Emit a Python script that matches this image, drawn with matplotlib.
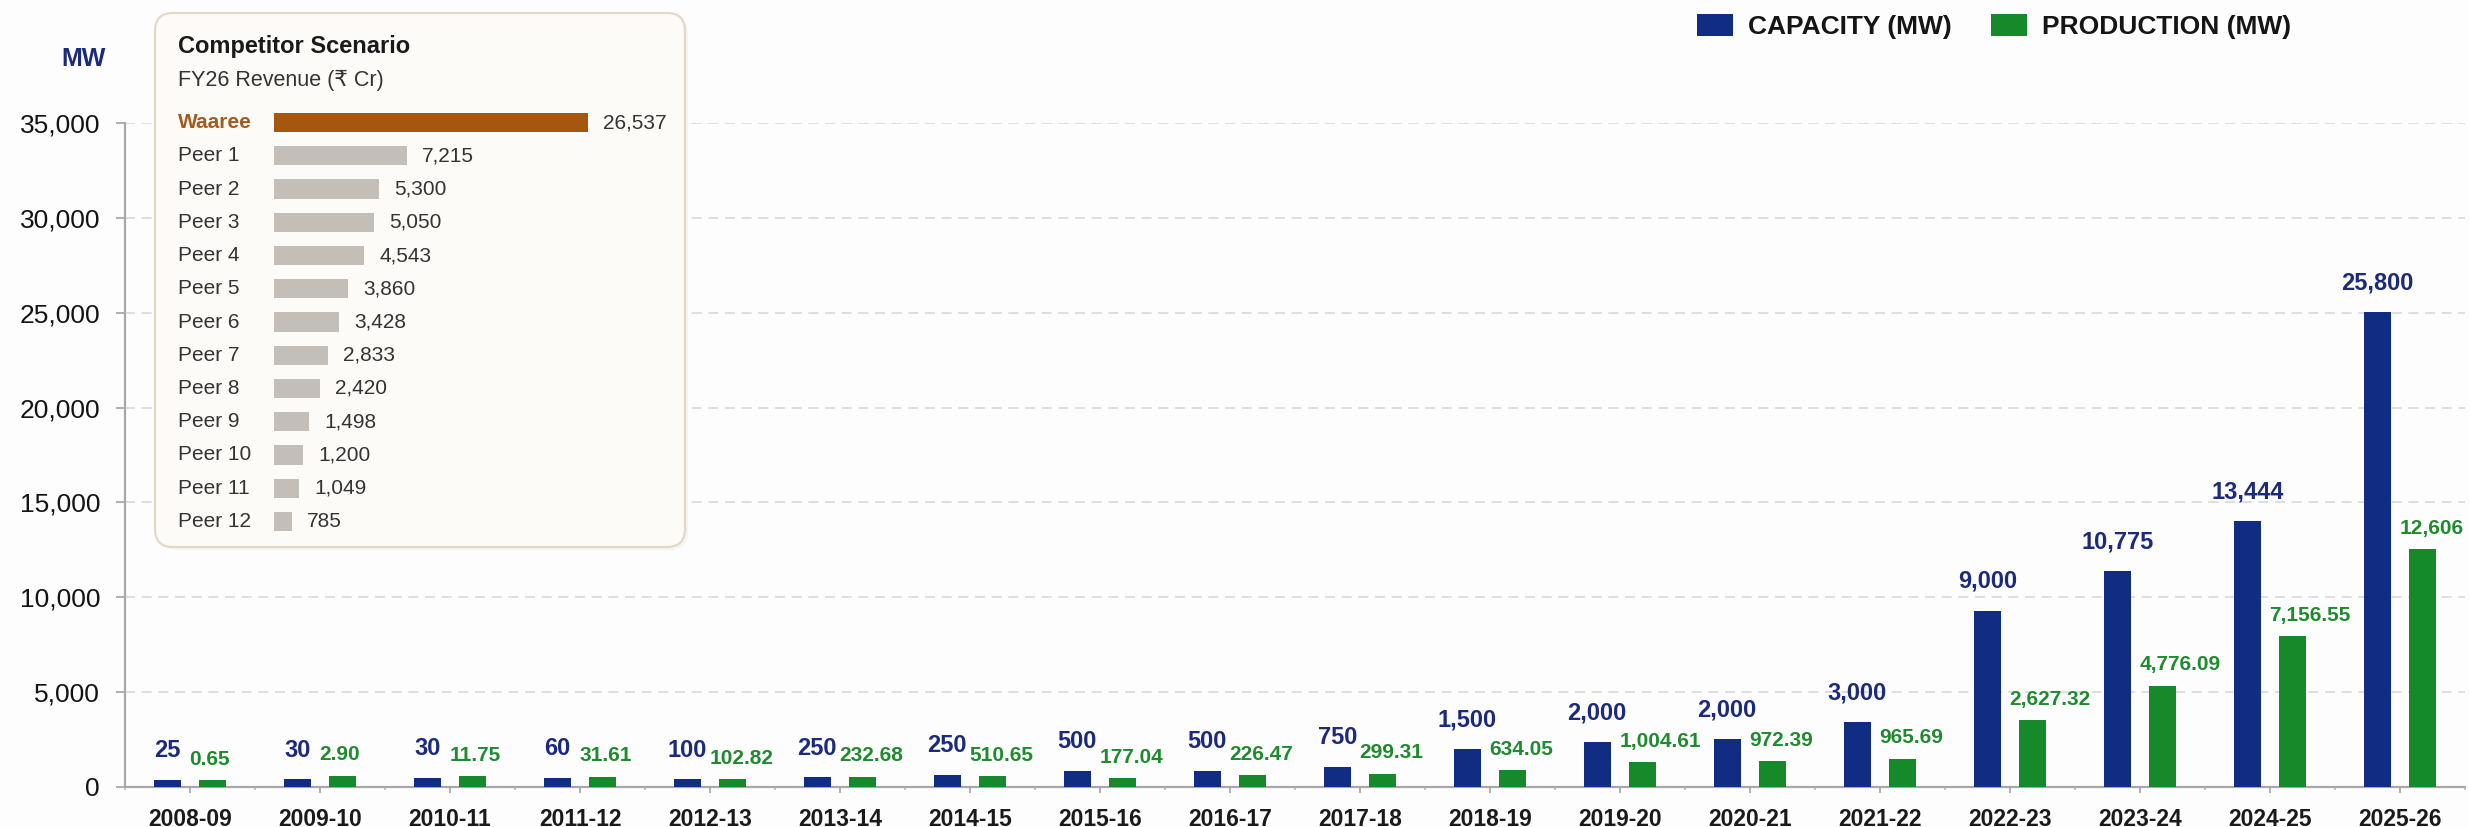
import numpy as np
import matplotlib
matplotlib.use("Agg")
import matplotlib.pyplot as plt
from matplotlib.patches import FancyBboxPatch, Patch
from matplotlib.ticker import FixedLocator, FuncFormatter

plt.rcParams['font.family'] = ['Liberation Sans', 'DejaVu Sans']

# ---------------- data ----------------
years = ['2008-09', '2009-10', '2010-11', '2011-12', '2012-13', '2013-14', '2014-15',
         '2015-16', '2016-17', '2017-18', '2018-19', '2019-20', '2020-21', '2021-22',
         '2022-23', '2023-24', '2024-25', '2025-26']
capacity = [25, 30, 30, 60, 100, 250, 250, 500, 500, 750, 1500, 2000, 2000, 3000,
            9000, 10775, 13444, 25800]
production = [0.65, 2.90, 11.75, 31.61, 102.82, 232.68, 510.65, 177.04, 226.47, 299.31,
              634.05, 1004.61, 972.39, 965.69, 2627.32, 4776.09, 7156.55, 12606]
# bar heights as drawn in the (not-to-scale) reference
capacity_drawn = [370, 400, 470, 470, 400, 510, 630, 860, 860, 1070, 1980, 2360, 2540,
                  3420, 9300, 11400, 14000, 25050]
production_drawn = [370, 600, 580, 540, 400, 540, 580, 470, 630, 700, 880, 1300, 1370,
                    1490, 3510, 5350, 7950, 12540]

companies = ['Waaree', 'Peer 1', 'Peer 2', 'Peer 3', 'Peer 4', 'Peer 5', 'Peer 6',
             'Peer 7', 'Peer 8', 'Peer 9', 'Peer 10', 'Peer 11', 'Peer 12']
revenue = [26537, 7215, 5300, 5050, 4543, 3860, 3428, 2833, 2420, 1498, 1200, 1049, 785]
# bar lengths as drawn in the (not-to-scale) reference inset
revenue_drawn = [314, 133, 105, 100, 90, 74, 65, 54, 46, 35, 29, 25, 18]

# ---------------- style ----------------
NAVY = '#102c83'
GREEN = '#16892a'
NAVY_TXT = '#1b2a7c'
GREEN_TXT = '#1f8a2e'
BG = '#fdfdfd'
W, H = 2469, 827

fig = plt.figure(figsize=(W / 100, H / 100), dpi=100, facecolor=BG)

# main axes (pixel layout converted to figure fractions)
L, R, T, B = 125, 2465, 123, 787
ax = fig.add_axes([L / W, 1 - B / H, (R - L) / W, (B - T) / H])
ax.set_facecolor('none')

x = np.arange(len(years))
bw = 0.21
off = 0.175
ax.bar(x - off, capacity_drawn, width=bw, color=NAVY, zorder=3, label='CAPACITY (MW)')
ax.bar(x + off, production_drawn, width=bw, color=GREEN, zorder=3, label='PRODUCTION (MW)')

for xi, h, v in zip(x, capacity_drawn, capacity):
    ax.annotate(f'{v:,}', (xi - off, h), xytext=(0, 21), textcoords='offset points',
                ha='center', va='center', fontsize=17, fontweight='bold', color=NAVY_TXT,
                zorder=4)
for xi, h, v in zip(x, production_drawn, production):
    s = f'{v:,.0f}' if float(v).is_integer() else f'{v:,.2f}'
    ax.annotate(s, (xi + off - bw / 2, h), xytext=(-7, 15), textcoords='offset points',
                ha='left', va='center', fontsize=15, fontweight='bold', color=GREEN_TXT,
                zorder=4)

ax.set_xlim(-0.5, len(years) - 0.5)
ax.set_ylim(0, 35000)
ax.set_yticks(np.arange(0, 35001, 5000))
ax.yaxis.set_major_formatter(FuncFormatter(lambda v, p: f'{int(v):,}'))
ax.set_xticks(x)
ax.set_xticklabels(years, fontsize=16.5, fontweight='bold', color='#1a1a1a')
ax.xaxis.set_minor_locator(FixedLocator(np.arange(-0.5, len(years), 1.0)))
ax.tick_params(axis='y', labelsize=19, colors='#a8a8a8', labelcolor='#141414',
               length=6.5, width=1.3, pad=11.5)
ax.tick_params(axis='x', which='major', colors='#a8a8a8', labelcolor='#1a1a1a',
               length=4, width=1.3, pad=11)
ax.tick_params(axis='x', which='minor', colors='#b8b8b8', length=2.5, width=1.2)

for s in ['top', 'right']:
    ax.spines[s].set_visible(False)
for s in ['left', 'bottom']:
    ax.spines[s].set_color('#a8a8a8')
    ax.spines[s].set_linewidth(1.6)

ax.yaxis.grid(True, linestyle=(0, (6, 4)), color='#d8d8d8', linewidth=1.2, zorder=0)
ax.set_axisbelow(True)
for gl in ax.yaxis.get_gridlines()[:1]:
    gl.set_visible(False)

# MW unit label
fig.text(84 / W, 1 - 59 / H, 'MW', ha='center', va='center', fontsize=18,
         fontweight='bold', color=NAVY_TXT)

# legend
handles = [Patch(facecolor=NAVY, edgecolor='none', label='CAPACITY (MW)'),
           Patch(facecolor=GREEN, edgecolor='none', label='PRODUCTION (MW)')]
leg = fig.legend(handles=handles, loc='upper left', bbox_to_anchor=(1697 / W, 1 - 14 / H),
                 ncol=2, frameon=False, fontsize=19, handlelength=1.35, handleheight=0.9,
                 handletextpad=0.57, columnspacing=1.5, borderpad=0, borderaxespad=0)
for t in leg.get_texts():
    t.set_fontweight('bold')
    t.set_color('#151515')

# ---------------- inset panel ----------------
ov = fig.add_axes([0, 0, 1, 1], zorder=5)
ov.set_xlim(0, W)
ov.set_ylim(H, 0)
ov.axis('off')
ov.patch.set_alpha(0)
ov.add_patch(FancyBboxPatch((158, 16), 530, 534, boxstyle='round,pad=0,rounding_size=18',
                            facecolor='#e9e6e0', edgecolor='none', alpha=0.35))
ov.add_patch(FancyBboxPatch((155, 13), 530, 534, boxstyle='round,pad=0,rounding_size=18',
                            facecolor='#fdfbf8', edgecolor='#e2d8c8', linewidth=1.6))
ov.text(178, 47, 'Competitor Scenario', ha='left', va='center', fontsize=17,
        fontweight='bold', color='#1a1a1a')
ov.text(178, 80, 'FY26 Revenue (₹ Cr)', ha='left', va='center', fontsize=15.5,
        color='#333333')

iax = fig.add_axes([274 / W, 1 - 538 / H, (685 - 274) / W, (538 - 106) / H], zorder=6)
iax.patch.set_alpha(0)
iax.axis('off')
iax.set_xlim(0, 411)
iax.set_ylim(len(companies) - 0.5, -0.5)
rows = np.arange(len(companies))
bar_cols = ['#a6570f'] + ['#c4beb8'] * (len(companies) - 1)
iax.barh(rows, revenue_drawn, height=0.58, color=bar_cols)
for r, name, val, ln in zip(rows, companies, revenue, revenue_drawn):
    first = r == 0
    iax.text(-96, r, name, ha='left', va='center', fontsize=15,
             fontweight='bold' if first else 'normal',
             color='#a55a1c' if first else '#333333', clip_on=False)
    iax.text(ln + 15, r, f'{val:,}', ha='left', va='center', fontsize=15,
             color='#333333', clip_on=False)

fig.savefig('out.png', dpi=100, facecolor=BG)
